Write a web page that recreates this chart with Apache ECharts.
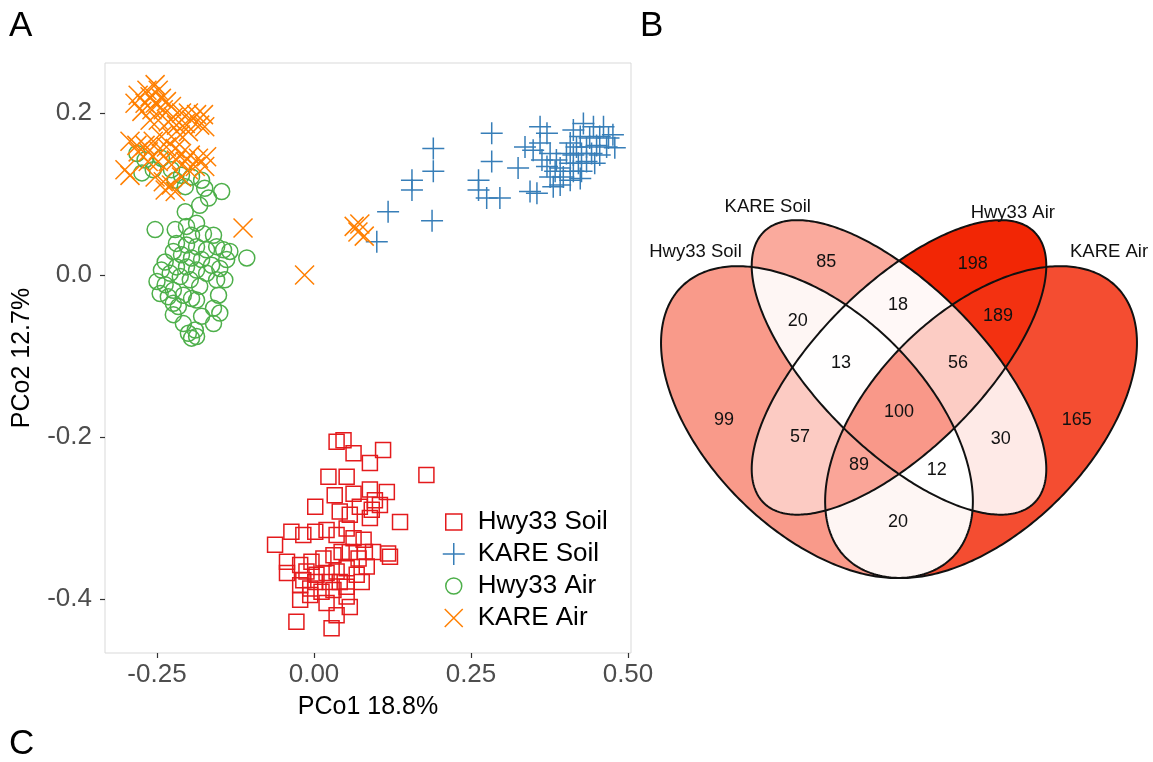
<!DOCTYPE html>
<html>
<head>
<meta charset="utf-8">
<script src="https://cdn.jsdelivr.net/npm/echarts@6/dist/echarts.min.js"></script>
<style>
  html, body { margin: 0; padding: 0; background: #ffffff; }
  #chart { width: 1153px; height: 762px; }
</style>
</head>
<body>
<div id="chart"></div>
<script>
// ---------- PCoA ordination: sample scores (PCo1, PCo2) ----------
const groupNames = ['Hwy33 Soil', 'KARE Soil', 'Hwy33 Air', 'KARE Air'];

const hwy33Soil = [
  [0.036,-0.206],[0.047,-0.204],[0.063,-0.220],[0.110,-0.216],[0.089,-0.232],[0.179,-0.247],
  [0.023,-0.249],[0.052,-0.249],[0.033,-0.272],[0.063,-0.270],[0.089,-0.265],[0.116,-0.268],
  [0.097,-0.278],[0.002,-0.286],[0.041,-0.292],[0.057,-0.296],[0.073,-0.286],[0.092,-0.290],
  [0.105,-0.284],[0.137,-0.305],[0.089,-0.300],[-0.062,-0.333],[-0.036,-0.317],[-0.017,-0.321],
  [0.002,-0.317],[0.020,-0.315],[0.036,-0.321],[0.052,-0.313],[0.063,-0.325],[0.079,-0.327],
  [0.094,-0.342],[0.118,-0.344],[0.121,-0.348],[-0.043,-0.354],[-0.043,-0.368],[-0.022,-0.358],
  [-0.004,-0.354],[0.015,-0.350],[0.031,-0.346],[0.044,-0.342],[0.057,-0.342],[0.071,-0.350],
  [0.084,-0.360],[-0.012,-0.366],[0.004,-0.370],[0.020,-0.368],[0.036,-0.366],[0.052,-0.362],
  [0.068,-0.370],[-0.022,-0.383],[-0.006,-0.387],[0.012,-0.391],[0.031,-0.389],[0.052,-0.385],
  [-0.006,-0.395],[-0.022,-0.401],[0.020,-0.405],[0.052,-0.397],[0.057,-0.410],[0.036,-0.420],
  [-0.028,-0.428],[0.028,-0.436],[0.002,-0.379],[-0.017,-0.377],[0.025,-0.379],[0.041,-0.379],
  [0.076,-0.379],[0.081,-0.342]
];

const kareSoil = [
  [0.100,0.041],[0.118,0.078],[0.156,0.117],[0.156,0.105],[0.190,0.156],[0.190,0.128],
  [0.188,0.067],[0.283,0.175],[0.283,0.140],[0.262,0.117],[0.262,0.105],[0.275,0.095],
  [0.296,0.095],[0.325,0.132],[0.336,0.158],[0.360,0.183],[0.371,0.175],[0.349,0.154],
  [0.360,0.163],[0.344,0.103],[0.355,0.101],[0.376,0.121],[0.371,0.134],[0.386,0.142],
  [0.392,0.132],[0.381,0.109],[0.413,0.179],[0.429,0.187],[0.445,0.183],[0.461,0.183],
  [0.424,0.171],[0.439,0.169],[0.455,0.171],[0.469,0.169],[0.408,0.163],[0.418,0.158],
  [0.434,0.158],[0.450,0.160],[0.466,0.158],[0.402,0.150],[0.413,0.148],[0.426,0.150],
  [0.442,0.150],[0.455,0.148],[0.408,0.138],[0.421,0.138],[0.434,0.140],[0.447,0.138],
  [0.413,0.128],[0.426,0.128],[0.397,0.121],[0.384,0.128],[0.408,0.117],[0.424,0.119],
  [0.392,0.111],[0.363,0.142],[0.376,0.150],[0.476,0.173],[0.479,0.157]
];

const hwy33Air = [
  [-0.282,0.150],[-0.269,0.142],[-0.256,0.130],[-0.274,0.126],[-0.243,0.144],[-0.227,0.130],
  [-0.211,0.123],[-0.195,0.121],[-0.179,0.117],[-0.205,0.109],[-0.174,0.107],[-0.147,0.103],
  [-0.221,0.117],[-0.168,0.095],[-0.182,0.086],[-0.205,0.078],[-0.253,0.056],[-0.107,0.021],
  [-0.221,0.056],[-0.203,0.060],[-0.187,0.064],[-0.195,0.049],[-0.176,0.051],[-0.160,0.049],
  [-0.144,0.031],[-0.134,0.029],[-0.155,0.035],[-0.171,0.031],[-0.187,0.035],[-0.203,0.037],
  [-0.219,0.039],[-0.224,0.029],[-0.211,0.025],[-0.195,0.021],[-0.179,0.019],[-0.163,0.012],
  [-0.150,0.008],[-0.139,0.019],[-0.142,-0.006],[-0.155,-0.006],[-0.171,0.002],[-0.187,0.006],
  [-0.203,0.010],[-0.219,0.010],[-0.237,0.016],[-0.243,0.006],[-0.229,0.002],[-0.213,-0.002],
  [-0.197,-0.006],[-0.182,-0.014],[-0.250,-0.008],[-0.237,-0.012],[-0.224,-0.019],[-0.208,-0.025],
  [-0.195,-0.029],[-0.152,-0.025],[-0.160,-0.041],[-0.150,-0.047],[-0.179,-0.051],[-0.187,-0.031],
  [-0.216,-0.039],[-0.224,-0.049],[-0.208,-0.060],[-0.189,-0.068],[-0.195,-0.078],[-0.187,-0.076],
  [-0.200,-0.072],[-0.160,-0.060],[-0.224,-0.035],[-0.232,-0.027],[-0.245,-0.023]
];

const kareAir = [
  [-0.253,0.235],[-0.266,0.228],[-0.248,0.228],[-0.280,0.222],[-0.261,0.220],[-0.243,0.218],
  [-0.285,0.212],[-0.269,0.212],[-0.253,0.212],[-0.235,0.214],[-0.274,0.202],[-0.258,0.204],
  [-0.240,0.204],[-0.227,0.208],[-0.224,0.195],[-0.211,0.200],[-0.200,0.200],[-0.187,0.198],
  [-0.176,0.198],[-0.195,0.191],[-0.205,0.187],[-0.219,0.185],[-0.232,0.189],[-0.248,0.191],
  [-0.261,0.191],[-0.182,0.185],[-0.174,0.183],[-0.200,0.177],[-0.213,0.173],[-0.227,0.171],
  [-0.243,0.171],[-0.256,0.165],[-0.269,0.160],[-0.282,0.160],[-0.293,0.165],[-0.280,0.152],
  [-0.264,0.152],[-0.248,0.154],[-0.235,0.158],[-0.221,0.156],[-0.211,0.150],[-0.197,0.148],
  [-0.184,0.144],[-0.171,0.146],[-0.174,0.134],[-0.189,0.134],[-0.205,0.140],[-0.219,0.142],
  [-0.232,0.140],[-0.248,0.140],[-0.264,0.140],[-0.301,0.130],[-0.293,0.123],[-0.253,0.121],
  [-0.240,0.115],[-0.227,0.111],[-0.211,0.121],[-0.200,0.130],[-0.237,0.105],[-0.221,0.103],
  [-0.113,0.058],[-0.015,0.000],[0.064,0.060],[0.073,0.063],[0.070,0.053],[0.080,0.048]
];

const xTicks = [-0.25, 0, 0.25, 0.5];
const yTicks = [-0.4, -0.2, 0, 0.2];
const xTitle = 'PCo1 18.8%';
const yTitle = 'PCo2 12.7%';

// ---------- Venn diagram: shared taxa counts ----------
// A = Hwy33 Soil, B = KARE Soil, C = Hwy33 Air, D = KARE Air
const vennSets = ['Hwy33 Soil', 'KARE Soil', 'Hwy33 Air', 'KARE Air'];
const vennRegions = ['A', 'B', 'C', 'D', 'AB', 'AC', 'AD', 'BC', 'BD', 'CD', 'ABC', 'ABD', 'ACD', 'BCD', 'ABCD'];
const vennCounts  = [99, 85, 198, 165, 20, 57, 20, 18, 30, 189, 13, 12, 89, 56, 100];

// ---------- layout of the four-ellipse diagram (unit square coordinates) ----------
const ellipseLayout = [
  { cx: 0.35, cy: 0.47, a: 0.35, b: 0.20, rot: -45 },
  { cx: 0.50, cy: 0.57, a: 0.35, b: 0.15, rot: -45 },
  { cx: 0.50, cy: 0.57, a: 0.35, b: 0.15, rot: 45 },
  { cx: 0.65, cy: 0.47, a: 0.35, b: 0.20, rot: 45 }
];
const regionLabelAt = {
  A: [0.180, 0.473], B: [0.367, 0.763], C: [0.635, 0.759], D: [0.825, 0.474],
  AB: [0.315, 0.655], AC: [0.319, 0.443], AD: [0.498, 0.287], BC: [0.498, 0.684],
  BD: [0.686, 0.439], CD: [0.681, 0.664], ABC: [0.394, 0.578], ABD: [0.569, 0.382],
  ACD: [0.427, 0.392], BCD: [0.608, 0.578], ABCD: [0.500, 0.488]
};
const setLabelAt = [[0.128, 0.782], [0.260, 0.864], [0.708, 0.852], [0.884, 0.782]];

const FONT = '"Liberation Sans", Arial, Helvetica, sans-serif';
const groupColors = ['#E41A1C', '#377EB8', '#4DAF4A', '#FF7F00'];
const groupSymbols = [
  'rect',
  'path://M10,0L10,20M0,10L20,10',
  'circle',
  'path://M0,0L20,20M20,0L0,20'
];
const groupSizes = [15, 22, 16, 19];
const legendIcons = [
  'path://M0,0M22,22M3,3L19,3L19,19L3,19Z',
  'path://M0,0M22,22M0,11L22,11M11,0L11,22',
  'path://M0,0M22,22M3,11A8,8,0,1,1,19,11A8,8,0,1,1,3,11Z',
  'path://M0,0M22,22M2,2L20,20M20,2L2,20'
];

// ---------- geometry helpers for the Venn regions ----------
function ellipsePolygon(e, n) {
  const th = e.rot * Math.PI / 180, c = Math.cos(th), s = Math.sin(th);
  const pts = [];
  for (let k = 0; k < n; k++) {
    const t = 2 * Math.PI * k / n;
    const x = e.a * Math.cos(t), y = e.b * Math.sin(t);
    pts.push([e.cx + x * c - y * s, e.cy + x * s + y * c]);
  }
  return pts;
}
function clipConvex(subject, clipper) {
  let out = subject;
  for (let i = 0; i < clipper.length && out.length; i++) {
    const a = clipper[i], b = clipper[(i + 1) % clipper.length];
    const side = p => (b[0] - a[0]) * (p[1] - a[1]) - (b[1] - a[1]) * (p[0] - a[0]);
    const inp = out; out = [];
    for (let j = 0; j < inp.length; j++) {
      const cur = inp[j], prev = inp[(j + inp.length - 1) % inp.length];
      const sc = side(cur), sp = side(prev);
      const cut = () => { const t = sp / (sp - sc); return [prev[0] + (cur[0] - prev[0]) * t, prev[1] + (cur[1] - prev[1]) * t]; };
      if (sc >= 0) { if (sp < 0) out.push(cut()); out.push(cur); }
      else if (sp >= 0) out.push(cut());
    }
  }
  return out;
}
const ellipsePolys = ellipseLayout.map(e => ellipsePolygon(e, 360));
// Each region is painted as the intersection of its sets; painting from
// single sets up to the four-way overlap leaves every area with its own colour.
const regionPolys = vennRegions.map(key => {
  let poly = ellipsePolys['ABCD'.indexOf(key[0])];
  for (const ch of key.slice(1)) poly = clipConvex(poly, ellipsePolys['ABCD'.indexOf(ch)]);
  return poly;
});
const cMin = Math.min(...vennCounts), cMax = Math.max(...vennCounts);
const lowRGB = [255, 255, 255], highRGB = [242, 38, 5];
function fillFor(count) {
  const t = (count - cMin) / (cMax - cMin);
  const c = lowRGB.map((v, i) => Math.round(v + (highRGB[i] - v) * t));
  return 'rgb(' + c.join(',') + ')';
}

const chart = echarts.init(document.getElementById('chart'), null, { renderer: 'canvas' });

const scatterSeries = groupNames.map((name, i) => ({
  type: 'scatter',
  name: name,
  xAxisIndex: 0,
  yAxisIndex: 0,
  data: [hwy33Soil, kareSoil, hwy33Air, kareAir][i],
  symbol: groupSymbols[i],
  symbolSize: groupSizes[i],
  itemStyle: { color: 'rgba(0,0,0,0)', borderColor: groupColors[i], borderWidth: 1.5, opacity: 1 },
  emphasis: { disabled: true },
  z: 3 + i
}));

const option = {
  animation: false,
  backgroundColor: '#ffffff',
  textStyle: { fontFamily: FONT },
  grid: [
    { left: 105, top: 63, width: 526, height: 590, show: true, borderColor: '#D9D9D9', borderWidth: 1, backgroundColor: '#ffffff' },
    { left: 734.9, top: 241.6, width: 328.2, height: 328.2, show: false }
  ],
  xAxis: [
    {
      gridIndex: 0, type: 'value', min: -0.3328, max: 0.5048,
      name: xTitle, nameLocation: 'middle', nameGap: 42,
      nameTextStyle: { fontSize: 25, color: '#000', fontFamily: FONT },
      axisLine: { show: false, onZero: false }, splitLine: { show: false },
      axisTick: { show: true, length: 5, lineStyle: { color: '#333333', width: 1.2 }, customValues: xTicks },
      axisLabel: { customValues: xTicks, formatter: v => v.toFixed(2), fontSize: 26, color: '#4D4D4D', margin: 9, fontFamily: FONT }
    },
    { gridIndex: 1, type: 'value', min: 0.2, max: 0.8, show: false }
  ],
  yAxis: [
    {
      gridIndex: 0, type: 'value', min: -0.4667, max: 0.2617,
      name: yTitle, nameLocation: 'middle', nameGap: 70, nameRotate: 90,
      nameTextStyle: { fontSize: 25, color: '#000', fontFamily: FONT },
      axisLine: { show: false, onZero: false }, splitLine: { show: false },
      axisTick: { show: true, length: 5, lineStyle: { color: '#333333', width: 1.2 }, customValues: yTicks },
      axisLabel: { customValues: yTicks, formatter: v => v.toFixed(1), fontSize: 26, color: '#4D4D4D', margin: 13, fontFamily: FONT }
    },
    { gridIndex: 1, type: 'value', min: 0.2, max: 0.8, show: false }
  ],
  legend: {
    orient: 'vertical', left: 437, top: 504, padding: 5,
    itemWidth: 22, itemHeight: 22, itemGap: 6,
    textStyle: { fontSize: 26, color: '#000', fontFamily: FONT, padding: [0, 0, 0, 8] },
    selectedMode: false,
    data: groupNames.map((name, i) => ({
      name: name,
      icon: legendIcons[i],
      itemStyle: { color: 'rgba(0,0,0,0)', borderColor: groupColors[i], borderWidth: 1.5 }
    }))
  },
  graphic: [
    { type: 'text', left: 9, top: 9, style: { text: 'A', fontSize: 35, fill: '#000', fontFamily: FONT } },
    { type: 'text', left: 640, top: 9, style: { text: 'B', fontSize: 35, fill: '#000', fontFamily: FONT } },
    { type: 'text', left: 9, top: 727, style: { text: 'C', fontSize: 35, fill: '#000', fontFamily: FONT } }
  ],
  series: scatterSeries.concat([
    {
      type: 'custom', name: 'venn-fill', xAxisIndex: 1, yAxisIndex: 1, clip: false, z: 1,
      silent: true,
      data: vennRegions.map((r, i) => [regionLabelAt[r][0], regionLabelAt[r][1], vennCounts[i]]),
      renderItem: (params, api) => ({
        type: 'polygon',
        shape: { points: regionPolys[params.dataIndex].map(p => api.coord(p)) },
        style: { fill: fillFor(api.value(2)), stroke: null }
      })
    },
    {
      type: 'custom', name: 'venn-outline', xAxisIndex: 1, yAxisIndex: 1, clip: false, z: 2,
      silent: true,
      data: ellipseLayout.map(e => [e.cx, e.cy]),
      renderItem: (params, api) => ({
        type: 'polygon',
        shape: { points: ellipsePolys[params.dataIndex].map(p => api.coord(p)) },
        style: { fill: 'none', stroke: '#111111', lineWidth: 2 }
      })
    },
    {
      type: 'custom', name: 'venn-counts', xAxisIndex: 1, yAxisIndex: 1, clip: false, z: 3,
      silent: true,
      data: vennRegions.map((r, i) => [regionLabelAt[r][0], regionLabelAt[r][1], vennCounts[i]]),
      renderItem: (params, api) => {
        const p = api.coord([api.value(0), api.value(1)]);
        return {
          type: 'text', x: p[0], y: p[1],
          style: { text: String(api.value(2)), fill: '#111111', fontSize: 18, fontFamily: FONT, align: 'center', verticalAlign: 'middle' }
        };
      }
    },
    {
      type: 'custom', name: 'venn-sets', xAxisIndex: 1, yAxisIndex: 1, clip: false, z: 3,
      silent: true,
      data: vennSets.map((s, i) => [setLabelAt[i][0], setLabelAt[i][1]]),
      renderItem: (params, api) => {
        const p = api.coord([api.value(0), api.value(1)]);
        return {
          type: 'text', x: p[0], y: p[1],
          style: { text: vennSets[params.dataIndex], fill: '#111111', fontSize: 18.5, fontFamily: FONT, align: 'center', verticalAlign: 'middle' }
        };
      }
    }
  ])
};

chart.setOption(option);
</script>
</body>
</html>
